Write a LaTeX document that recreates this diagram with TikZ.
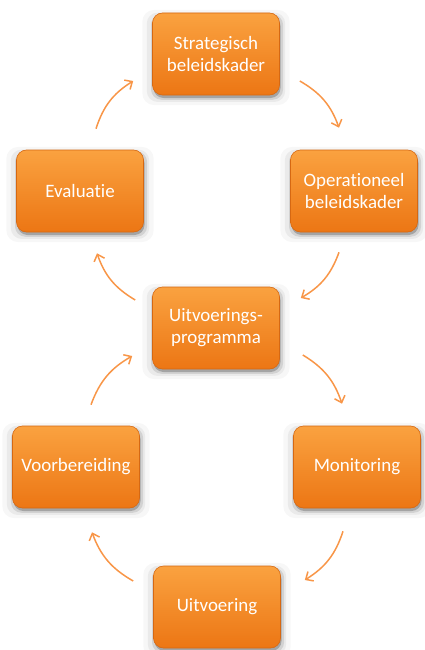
\documentclass[tikz,border=0pt]{standalone}
\usepackage{fontspec}
\setmainfont[Ligatures=NoCommon]{Carlito}
\usetikzlibrary{arrows.meta,shadows}
\definecolor{boxtop}{RGB}{250,162,64}
\definecolor{boxbot}{RGB}{236,118,20}
\definecolor{boxrim}{RGB}{214,104,18}
\definecolor{pijl}{RGB}{248,150,72}
\begin{document}
\begin{tikzpicture}[x=1bp,y=-1bp,
    stap/.style={rounded corners=10bp, minimum width=127bp, minimum height=82bp, inner sep=0pt,
        top color=boxtop, bottom color=boxbot, draw=boxrim, line width=0.6bp,
        text=white, align=center, font=\fontsize{19}{22}\selectfont,
        drop shadow={shadow xshift=0bp, shadow yshift=-3bp, opacity=0.03, fill=black, shadow scale=1.16},
        drop shadow={shadow xshift=0bp, shadow yshift=-3bp, opacity=0.05, fill=black, shadow scale=1.09},
        drop shadow={shadow xshift=1bp, shadow yshift=-3bp, opacity=0.10, fill=black, shadow scale=1.04},
        drop shadow={shadow xshift=1bp, shadow yshift=-3bp, opacity=0.22, fill=black, shadow scale=1.0}},
    flow/.style={draw=pijl, line width=1.5bp, -{Straight Barb[length=6bp,width=11bp]}}]
    \useasboundingbox (0,0) rectangle (424,650);
    \node[stap] (strat) at (216,54) {Strategisch\\beleidskader};
    \node[stap] (oper) at (354,191) {Operationeel\\beleidskader};
    \node[stap] (eval) at (80,191) {Evaluatie};
    \node[stap] (uprog) at (216,328) {Uitvoerings-\\programma};
    \node[stap] (voor) at (76,467) {Voorbereiding};
    \node[stap] (mon) at (357,467) {Monitoring};
    \node[stap] (uitv) at (217,607) {Uitvoering};
    % bovenste kringloop
    \draw[flow] ([shift={(20,27)}]strat.east) to[bend left=20] ([shift={(-15,-22)}]oper.north);
    \draw[flow] ([shift={(-15,20)}]oper.south) to[bend left=20] ([shift={(21,-30)}]uprog.east);
    \draw[flow] ([shift={(-17,-28)}]uprog.west) to[bend left=20] ([shift={(17,21)}]eval.south);
    \draw[flow] ([shift={(16,-21)}]eval.north) to[bend left=20] ([shift={(-19,27)}]strat.west);
    % onderste kringloop
    \draw[flow] ([shift={(23,27)}]uprog.east) to[bend left=20] ([shift={(-15,-22)}]mon.north);
    \draw[flow] ([shift={(-14,23)}]mon.south) to[bend left=20] ([shift={(24,-27)}]uitv.east);
    \draw[flow] ([shift={(-20,-26)}]uitv.west) to[bend left=20] ([shift={(16,24)}]voor.south);
    \draw[flow] ([shift={(15,-21)}]voor.north) to[bend left=20] ([shift={(-20,28)}]uprog.west);
\end{tikzpicture}
\end{document}
